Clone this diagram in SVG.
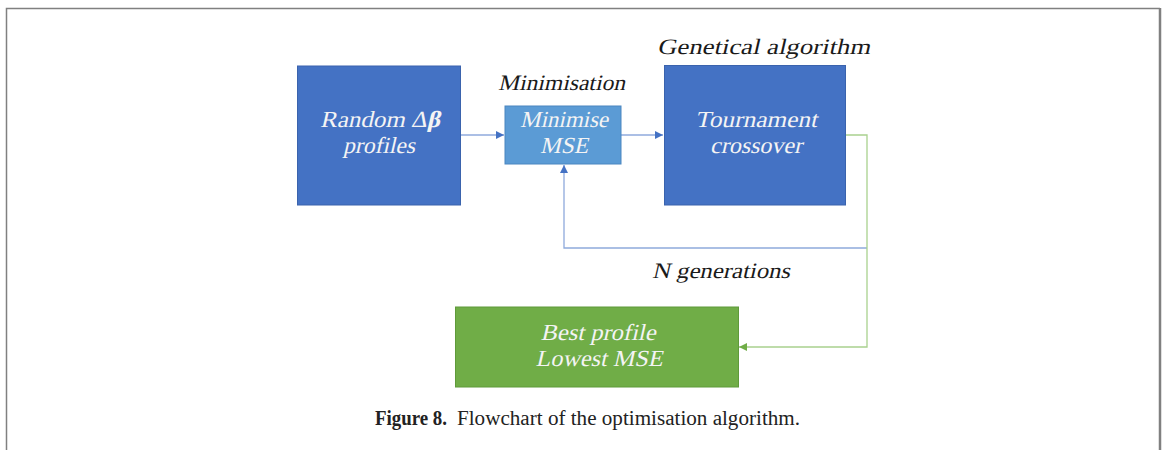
<svg xmlns="http://www.w3.org/2000/svg" width="1165" height="450" viewBox="0 0 1165 450">
<style>
.box{stroke-width:1}
.blue{fill:#4472C4;stroke:#3A63AD}
.lblue{fill:#5B9BD5;stroke:#4A86C0}
.green{fill:#70AD47;stroke:#5F9A3A}
.bt{font-family:"Liberation Serif",serif;font-size:23px;fill:#F4F4F4;text-anchor:middle}
.lab{font-family:"Liberation Serif",serif;font-size:22px;fill:#1a1a1a}
.cap{font-family:"Liberation Serif",serif;font-size:20px;fill:#222}
.cb{stroke:#8FAADC;stroke-width:1.3;fill:none}
.cg{stroke:#A9D18E;stroke-width:1.3;fill:none}
</style>
<defs>
<marker id="ab" viewBox="0 0 10 10" refX="10" refY="5" markerWidth="8" markerHeight="8" markerUnits="userSpaceOnUse" orient="auto"><path d="M0,0L10,5L0,10z" fill="#4472C4"/></marker>
<marker id="ag" viewBox="0 0 10 10" refX="10" refY="5" markerWidth="8" markerHeight="8" markerUnits="userSpaceOnUse" orient="auto"><path d="M0,0L10,5L0,10z" fill="#70AD47"/></marker>
</defs>
<rect width="1165" height="450" fill="#FFFFFF"/>
<g id="frame" fill="none" stroke="#808080">
<path d="M6.5,450V8.5H1160" stroke-width="1.5"/>
<path d="M1160,8V450" stroke-width="2.5"/>
</g>
<g id="connectors">
<path class="cb" d="M461,135H504" marker-end="url(#ab)"/>
<path class="cb" d="M621,135H663" marker-end="url(#ab)"/>
<path class="cb" d="M867,248H564V165" marker-end="url(#ab)"/>
<path class="cg" d="M846,135H867V347H739" marker-end="url(#ag)"/>
</g>
<g id="random">
<rect class="box blue" x="297.5" y="66" width="163" height="139"/>
<g transform="translate(380,127) skewX(-13)"><text class="bt" x="0" y="0" textLength="120" lengthAdjust="spacingAndGlyphs">Random Δ<tspan font-weight="bold">β</tspan></text></g>
<g transform="translate(379,153) skewX(-13)"><text class="bt" x="0" y="0" textLength="72" lengthAdjust="spacingAndGlyphs">profiles</text></g>
</g>
<g id="minimise">
<rect class="box lblue" x="505" y="106" width="116" height="58"/>
<g transform="translate(564,127) skewX(-13)"><text class="bt" x="0" y="0" textLength="88" lengthAdjust="spacingAndGlyphs">Minimise</text></g>
<g transform="translate(564,153) skewX(-13)"><text class="bt" x="0" y="0" textLength="48" lengthAdjust="spacingAndGlyphs">MSE</text></g>
<g transform="translate(498,90) skewX(-13)"><text class="lab" x="0" y="0" textLength="127" lengthAdjust="spacingAndGlyphs">Minimisation</text></g>
</g>
<g id="tournament">
<rect class="box blue" x="664.5" y="65.5" width="181" height="139.5"/>
<g transform="translate(756,127) skewX(-13)"><text class="bt" x="0" y="0" textLength="122" lengthAdjust="spacingAndGlyphs">Tournament</text></g>
<g transform="translate(756,153) skewX(-13)"><text class="bt" x="0" y="0" textLength="92" lengthAdjust="spacingAndGlyphs">crossover</text></g>
<g transform="translate(657,54) skewX(-13)"><text class="lab" x="0" y="0" textLength="213" lengthAdjust="spacingAndGlyphs">Genetical algorithm</text></g>
</g>
<g id="ngen">
<g transform="translate(652,278) skewX(-13)"><text class="lab" x="0" y="0" textLength="138" lengthAdjust="spacingAndGlyphs">N generations</text></g>
</g>
<g id="best">
<rect class="box green" x="455.5" y="307" width="283" height="80"/>
<g transform="translate(598,340) skewX(-13)"><text class="bt" x="0" y="0" textLength="115" lengthAdjust="spacingAndGlyphs">Best profile</text></g>
<g transform="translate(599,366) skewX(-13)"><text class="bt" x="0" y="0" textLength="127" lengthAdjust="spacingAndGlyphs">Lowest MSE</text></g>
</g>
<g id="caption">
<text class="cap" x="375" y="425"><tspan font-weight="bold" textLength="72" lengthAdjust="spacingAndGlyphs">Figure 8.</tspan><tspan x="457" textLength="343" lengthAdjust="spacingAndGlyphs">Flowchart of the optimisation algorithm.</tspan></text>
</g>
</svg>
